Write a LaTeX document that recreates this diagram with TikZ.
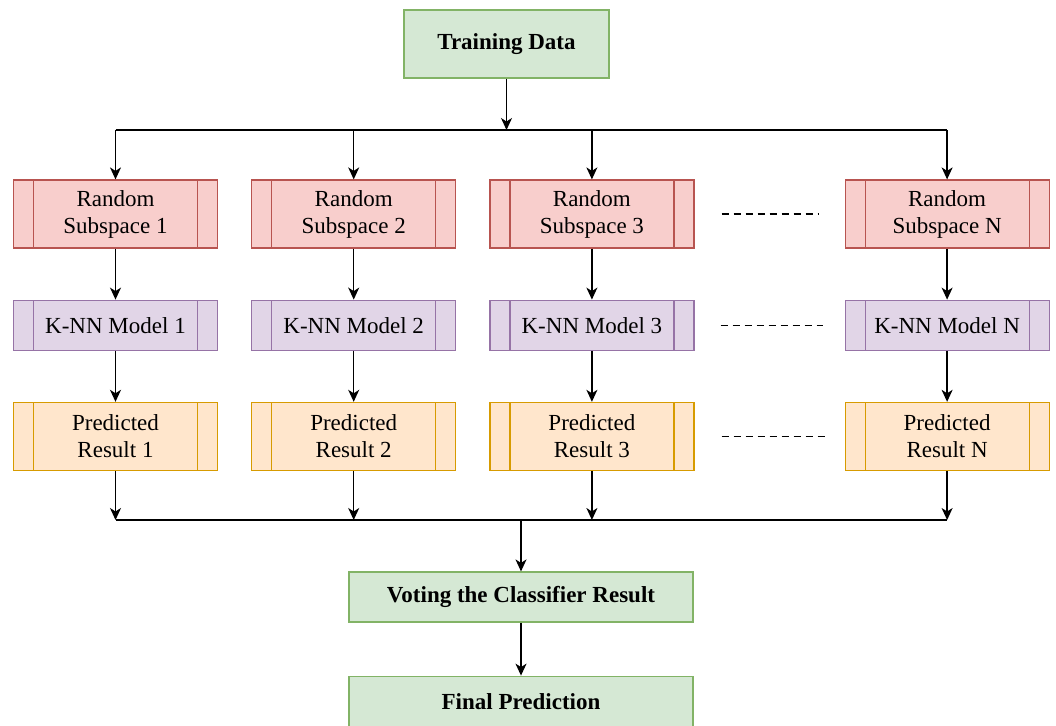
\documentclass[tikz,border=0pt]{standalone}
\usepackage{fontspec}
\setmainfont{Liberation Serif}
\usetikzlibrary{positioning,arrows.meta}

\definecolor{greenfill}{HTML}{D5E8D4}
\definecolor{greenline}{HTML}{82B366}
\definecolor{redfill}{HTML}{F8CECC}
\definecolor{redline}{HTML}{B85450}
\definecolor{purplefill}{HTML}{E1D5E7}
\definecolor{purpleline}{HTML}{9673A6}
\definecolor{orangefill}{HTML}{FFE6CC}
\definecolor{orangeline}{HTML}{D79B00}

\begin{document}
\begin{tikzpicture}[
    x=1pt, y=-1pt,
    node distance=33pt,
    font=\fontsize{23}{27}\selectfont,
    proc/.style 2 args={
        rectangle,
        draw=#2,
        fill=#1,
        line width=1.2pt,
        minimum width=204pt,
        inner sep=0pt,
        align=center,
        path picture={
            \draw[#2, line width=1.2pt]
            ([xshift=20pt]path picture bounding box.north west) --
            ([xshift=20pt]path picture bounding box.south west)
            ([xshift=-20pt]path picture bounding box.north east) --
            ([xshift=-20pt]path picture bounding box.south east);
        }
    },
    subbox/.style={proc={redfill}{redline}, minimum height=68pt},
    modelbox/.style={proc={purplefill}{purpleline}, minimum height=50pt},
    resultbox/.style={proc={orangefill}{orangeline}, minimum height=68pt},
    greenbox/.style={
        rectangle,
        draw=greenline,
        fill=greenfill,
        line width=1.2pt,
        inner sep=0pt,
        align=center,
        font=\fontsize{23}{27}\selectfont\bfseries
    },
    arrow/.style={-{Stealth[length=12pt,width=11pt,inset=3.5pt]}, line width=1.4pt},
    bus/.style={line width=1.4pt},
    gap/.style={line width=1.2pt, dash pattern=on 7pt off 5pt}
]
\useasboundingbox (0,0) rectangle (1056,725);

\node[greenbox, minimum width=205pt, minimum height=68pt] (train) at (506.5,44)
{Training Data};

\node[subbox] (S1) at (115.5,214) {Random\\Subspace 1};
\node[subbox, right=of S1] (S2) {Random\\Subspace 2};
\node[subbox, right=of S2] (S3) {Random\\Subspace 3};
\node[subbox, right=150pt of S3] (SN) {Random\\Subspace N};

\node[modelbox, below=51pt of S1] (K1) {K-NN Model 1};
\node[modelbox, below=51pt of S2] (K2) {K-NN Model 2};
\node[modelbox, below=51pt of S3] (K3) {K-NN Model 3};
\node[modelbox, below=51pt of SN] (KN) {K-NN Model N};

\node[resultbox, below=51pt of K1] (R1) {Predicted\\Result 1};
\node[resultbox, below=51pt of K2] (R2) {Predicted\\Result 2};
\node[resultbox, below=51pt of K3] (R3) {Predicted\\Result 3};
\node[resultbox, below=51pt of KN] (RN) {Predicted\\Result N};

\node[greenbox, minimum width=344pt, minimum height=50pt] (vote) at (521,597)
{Voting the Classifier Result};
\node[greenbox, minimum width=344pt, minimum height=50pt, below=53pt of vote] (final)
{Final Prediction};

% top bus
\coordinate (top) at (506.5,130);
\draw[arrow] (train) -- (top);
\draw[bus] (S1.north |- top) -- (SN.north |- top);
\foreach \n in {1,2,3,N}
    \draw[arrow] (S\n.north |- top) -- (S\n.north);

% columns
\foreach \n in {1,2,3,N} {
    \draw[arrow] (S\n) -- (K\n);
    \draw[arrow] (K\n) -- (R\n);
}

% dotted gaps
\draw[gap] ([xshift=27pt]S3.east) -- ([xshift=-26pt]SN.west);
\draw[gap] ([xshift=26pt]K3.east) -- ([xshift=-22pt]KN.west);
\draw[gap] ([xshift=27pt]R3.east) -- ([xshift=-20pt]RN.west);

% bottom bus
\coordinate (bot) at (521,520);
\foreach \n in {1,2,3,N}
    \draw[arrow] (R\n.south) -- (R\n.south |- bot);
\draw[bus] (R1.south |- bot) -- (RN.south |- bot);
\draw[arrow] (bot) -- (vote);
\draw[arrow] (vote) -- (final);

\end{tikzpicture}
\end{document}
